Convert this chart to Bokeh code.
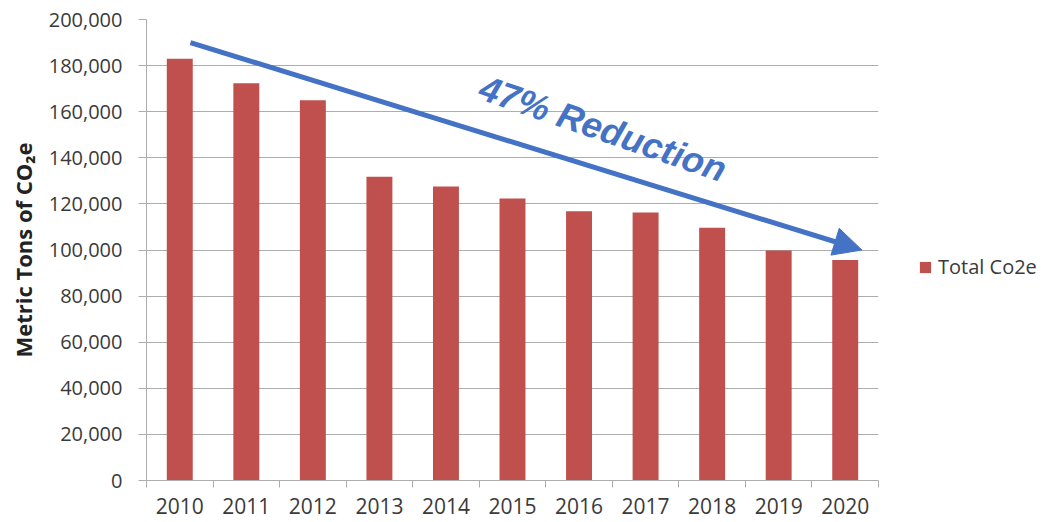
from bokeh.plotting import figure
from bokeh.embed import file_html
from bokeh.resources import INLINE
from bokeh.models import (Arrow, NormalHead, Label, Legend, LegendItem,
                          FixedTicker, NumeralTickFormatter, Range1d)

# ---- data ----
years = [2010, 2011, 2012, 2013, 2014, 2015, 2016, 2017, 2018, 2019, 2020]
year_labels = ["2010", "2011", "2012", "2013", "2014", "2015", "2016",
               "2017", "2018", "2019", "2020"]
total_co2e = [183000, 172300, 165000, 131800, 127600, 122300, 116800,
              116300, 109700, 99800, 95700]
y_ticks = [0, 20000, 40000, 60000, 80000, 100000, 120000, 140000,
           160000, 180000, 200000]
series_name = "Total Co2e"
annotation_text = "47% Reduction"

BAR = "#C0504D"
BLUE = "#4472C4"
GRID = "#ADADAD"
TXT = "#3A3A3A"

p = figure(frame_width=732, height=518, output_backend="svg", toolbar_location=None,
           x_range=Range1d(years[0] - 0.5, years[-1] + 0.5),
           y_range=Range1d(y_ticks[0], y_ticks[-1]),
           min_border_left=146, min_border_right=157,
           min_border_top=19, min_border_bottom=38)
p.outline_line_color = None
p.background_fill_color = "white"

r = p.vbar(x=years, top=total_co2e, width=0.39, fill_color=BAR,
           line_color=None)

# grid
p.xgrid.visible = False
p.ygrid.grid_line_color = GRID
p.ygrid.grid_line_width = 1

# y axis
p.yaxis.ticker = FixedTicker(ticks=y_ticks)
p.yaxis.formatter = NumeralTickFormatter(format="0,0")
p.yaxis.axis_line_color = GRID
p.yaxis.major_tick_line_color = GRID
p.yaxis.major_tick_out = 8
p.yaxis.major_tick_in = 0
p.yaxis.minor_tick_line_color = None
p.yaxis.major_label_standoff = 16
p.yaxis.major_label_text_font = "Open Sans"
p.yaxis.major_label_text_font_size = "20px"
p.yaxis.major_label_text_color = TXT
p.yaxis.axis_label = "Metric Tons of CO\u2082e"
p.yaxis.axis_label_text_font = "Open Sans"
p.yaxis.axis_label_text_font_size = "22px"
p.yaxis.axis_label_text_font_style = "bold"
p.yaxis.axis_label_text_color = "#222222"
p.yaxis.axis_label_standoff = 8

# x axis: labels at centres, tick marks at category boundaries
boundaries = [y - 0.5 for y in years] + [years[-1] + 0.5]
p.xaxis.ticker = FixedTicker(ticks=years, minor_ticks=boundaries)
p.xaxis.major_label_overrides = {y: lab for y, lab in zip(years, year_labels)}
p.xaxis.axis_line_color = GRID
p.xaxis.major_tick_line_color = None
p.xaxis.major_tick_out = 0
p.xaxis.major_tick_in = 0
p.xaxis.minor_tick_line_color = GRID
p.xaxis.minor_tick_out = 7
p.xaxis.minor_tick_in = 0
p.xaxis.major_label_standoff = 10
p.xaxis.major_label_text_font = "Open Sans"
p.xaxis.major_label_text_font_size = "21px"
p.xaxis.major_label_text_color = TXT

# arrow annotation
p.add_layout(Arrow(end=NormalHead(size=28, fill_color=BLUE, line_color=BLUE),
                   x_start=2010.16, y_start=190000,
                   x_end=2020.25, y_end=100000,
                   line_color=BLUE, line_width=5))

p.add_layout(Label(x=2016.36, y=152700, text=annotation_text,
                   angle=-19, angle_units="deg",
                   text_align="center", text_baseline="middle",
                   text_font="Liberation Sans", text_font_style="bold italic",
                   text_font_size="36px", text_color=BLUE))

legend = Legend(items=[LegendItem(label=series_name, renderers=[r])],
                location=(40, 200), glyph_width=14, glyph_height=14,
                label_text_font="Open Sans", label_text_font_size="20px",
                label_text_color=TXT, label_standoff=6,
                padding=0, margin=0, border_line_color=None,
                background_fill_alpha=0)
p.add_layout(legend, "right")

open("out.html", "w").write(file_html(p, INLINE))
